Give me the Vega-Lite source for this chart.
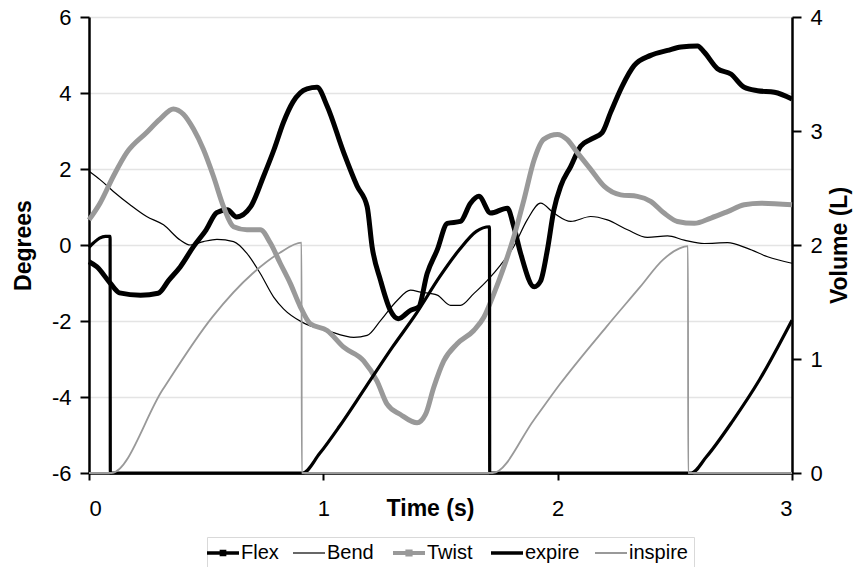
{
  "$schema": "https://vega.github.io/schema/vega-lite/v6.json",
  "width": 703,
  "height": 456,
  "autosize": "none",
  "padding": {"left": 89, "top": 17, "right": 66, "bottom": 94},
  "background": "white",
  "config": {
    "view": {"stroke": null},
    "font": "Liberation Sans",
    "legend": {
      "orient": "none",
      "legendX": 118,
      "legendY": 520,
      "direction": "horizontal",
      "strokeColor": "#d9d9d9",
      "fillColor": "white",
      "padding": 6,
      "symbolType": "stroke",
      "symbolSize": 1024,
      "labelFont": "Liberation Sans",
      "labelFontSize": 20,
      "labelColor": "black",
      "labelOffset": 8,
      "columnPadding": 11,
      "title": null
    }
  },
  "datasets": {
    "deg": [
      {"s":"Flex","t":0,"v":-0.44},{"s":"Flex","t":0.033,"v":-0.57},{"s":"Flex","t":0.09,"v":-1.0},{"s":"Flex","t":0.13,"v":-1.26},{"s":"Flex","t":0.22,"v":-1.32},{"s":"Flex","t":0.295,"v":-1.27},{"s":"Flex","t":0.34,"v":-0.93},{"s":"Flex","t":0.39,"v":-0.57},{"s":"Flex","t":0.445,"v":-0.05},{"s":"Flex","t":0.5,"v":0.4},{"s":"Flex","t":0.545,"v":0.85},{"s":"Flex","t":0.59,"v":0.93},{"s":"Flex","t":0.63,"v":0.74},{"s":"Flex","t":0.69,"v":1.01},{"s":"Flex","t":0.745,"v":1.81},{"s":"Flex","t":0.79,"v":2.52},{"s":"Flex","t":0.83,"v":3.23},{"s":"Flex","t":0.87,"v":3.76},{"s":"Flex","t":0.93,"v":4.11},{"s":"Flex","t":0.973,"v":4.15},{"s":"Flex","t":1.016,"v":3.66},{"s":"Flex","t":1.087,"v":2.43},{"s":"Flex","t":1.144,"v":1.55},{"s":"Flex","t":1.187,"v":1.01},{"s":"Flex","t":1.208,"v":-0.04},{"s":"Flex","t":1.244,"v":-0.93},{"s":"Flex","t":1.286,"v":-1.72},{"s":"Flex","t":1.32,"v":-1.94},{"s":"Flex","t":1.372,"v":-1.72},{"s":"Flex","t":1.407,"v":-1.63},{"s":"Flex","t":1.443,"v":-0.75},{"s":"Flex","t":1.486,"v":-0.13},{"s":"Flex","t":1.529,"v":0.57},{"s":"Flex","t":1.585,"v":0.62},{"s":"Flex","t":1.628,"v":1.1},{"s":"Flex","t":1.664,"v":1.28},{"s":"Flex","t":1.714,"v":0.84},{"s":"Flex","t":1.785,"v":0.97},{"s":"Flex","t":1.813,"v":0.48},{"s":"Flex","t":1.842,"v":-0.22},{"s":"Flex","t":1.9,"v":-1.1},{"s":"Flex","t":1.927,"v":-0.95},{"s":"Flex","t":1.956,"v":-0.13},{"s":"Flex","t":1.984,"v":0.93},{"s":"Flex","t":2.013,"v":1.55},{"s":"Flex","t":2.056,"v":2.07},{"s":"Flex","t":2.098,"v":2.6},{"s":"Flex","t":2.141,"v":2.78},{"s":"Flex","t":2.19,"v":2.96},{"s":"Flex","t":2.226,"v":3.49},{"s":"Flex","t":2.276,"v":4.19},{"s":"Flex","t":2.326,"v":4.72},{"s":"Flex","t":2.397,"v":4.99},{"s":"Flex","t":2.469,"v":5.12},{"s":"Flex","t":2.526,"v":5.21},{"s":"Flex","t":2.597,"v":5.24},{"s":"Flex","t":2.625,"v":5.08},{"s":"Flex","t":2.682,"v":4.64},{"s":"Flex","t":2.739,"v":4.5},{"s":"Flex","t":2.796,"v":4.15},{"s":"Flex","t":2.853,"v":4.06},{"s":"Flex","t":2.925,"v":4.02},{"s":"Flex","t":3.0,"v":3.84},
      {"s":"Bend","t":0,"v":1.94},{"s":"Bend","t":0.047,"v":1.72},{"s":"Bend","t":0.104,"v":1.41},{"s":"Bend","t":0.175,"v":1.06},{"s":"Bend","t":0.246,"v":0.75},{"s":"Bend","t":0.318,"v":0.53},{"s":"Bend","t":0.389,"v":0.13},{"s":"Bend","t":0.432,"v":0.0},{"s":"Bend","t":0.488,"v":0.09},{"s":"Bend","t":0.546,"v":0.15},{"s":"Bend","t":0.617,"v":0.09},{"s":"Bend","t":0.674,"v":-0.22},{"s":"Bend","t":0.731,"v":-0.75},{"s":"Bend","t":0.788,"v":-1.37},{"s":"Bend","t":0.83,"v":-1.68},{"s":"Bend","t":0.909,"v":-2.03},{"s":"Bend","t":1.016,"v":-2.25},{"s":"Bend","t":1.13,"v":-2.43},{"s":"Bend","t":1.187,"v":-2.38},{"s":"Bend","t":1.244,"v":-1.99},{"s":"Bend","t":1.315,"v":-1.46},{"s":"Bend","t":1.372,"v":-1.19},{"s":"Bend","t":1.415,"v":-1.24},{"s":"Bend","t":1.486,"v":-1.32},{"s":"Bend","t":1.543,"v":-1.59},{"s":"Bend","t":1.585,"v":-1.59},{"s":"Bend","t":1.642,"v":-1.28},{"s":"Bend","t":1.7,"v":-0.93},{"s":"Bend","t":1.756,"v":-0.53},{"s":"Bend","t":1.813,"v":-0.04},{"s":"Bend","t":1.87,"v":0.66},{"s":"Bend","t":1.927,"v":1.1},{"s":"Bend","t":1.984,"v":0.84},{"s":"Bend","t":2.056,"v":0.62},{"s":"Bend","t":2.141,"v":0.75},{"s":"Bend","t":2.212,"v":0.66},{"s":"Bend","t":2.298,"v":0.4},{"s":"Bend","t":2.383,"v":0.2},{"s":"Bend","t":2.469,"v":0.24},{"s":"Bend","t":2.54,"v":0.13},{"s":"Bend","t":2.625,"v":0.04},{"s":"Bend","t":2.725,"v":0.06},{"s":"Bend","t":2.81,"v":-0.09},{"s":"Bend","t":2.896,"v":-0.31},{"s":"Bend","t":3.0,"v":-0.48},
      {"s":"Twist","t":0,"v":0.66},{"s":"Twist","t":0.047,"v":1.1},{"s":"Twist","t":0.104,"v":1.81},{"s":"Twist","t":0.161,"v":2.43},{"s":"Twist","t":0.246,"v":2.96},{"s":"Twist","t":0.303,"v":3.31},{"s":"Twist","t":0.36,"v":3.58},{"s":"Twist","t":0.403,"v":3.44},{"s":"Twist","t":0.446,"v":3.05},{"s":"Twist","t":0.488,"v":2.52},{"s":"Twist","t":0.531,"v":1.81},{"s":"Twist","t":0.574,"v":1.01},{"s":"Twist","t":0.617,"v":0.48},{"s":"Twist","t":0.674,"v":0.4},{"s":"Twist","t":0.731,"v":0.4},{"s":"Twist","t":0.774,"v":0.05},{"s":"Twist","t":0.816,"v":-0.48},{"s":"Twist","t":0.859,"v":-1.01},{"s":"Twist","t":0.9,"v":-1.6},{"s":"Twist","t":0.944,"v":-2.07},{"s":"Twist","t":1.016,"v":-2.25},{"s":"Twist","t":1.087,"v":-2.69},{"s":"Twist","t":1.172,"v":-3.05},{"s":"Twist","t":1.229,"v":-3.58},{"s":"Twist","t":1.272,"v":-4.19},{"s":"Twist","t":1.329,"v":-4.46},{"s":"Twist","t":1.4,"v":-4.68},{"s":"Twist","t":1.436,"v":-4.46},{"s":"Twist","t":1.471,"v":-3.75},{"s":"Twist","t":1.514,"v":-3.05},{"s":"Twist","t":1.571,"v":-2.6},{"s":"Twist","t":1.642,"v":-2.25},{"s":"Twist","t":1.685,"v":-1.9},{"s":"Twist","t":1.728,"v":-1.28},{"s":"Twist","t":1.771,"v":-0.57},{"s":"Twist","t":1.813,"v":0.22},{"s":"Twist","t":1.856,"v":1.19},{"s":"Twist","t":1.9,"v":2.25},{"s":"Twist","t":1.94,"v":2.78},{"s":"Twist","t":1.999,"v":2.91},{"s":"Twist","t":2.04,"v":2.78},{"s":"Twist","t":2.084,"v":2.43},{"s":"Twist","t":2.141,"v":1.99},{"s":"Twist","t":2.198,"v":1.55},{"s":"Twist","t":2.269,"v":1.32},{"s":"Twist","t":2.34,"v":1.28},{"s":"Twist","t":2.397,"v":1.15},{"s":"Twist","t":2.454,"v":0.84},{"s":"Twist","t":2.511,"v":0.62},{"s":"Twist","t":2.583,"v":0.57},{"s":"Twist","t":2.654,"v":0.71},{"s":"Twist","t":2.725,"v":0.88},{"s":"Twist","t":2.796,"v":1.06},{"s":"Twist","t":2.868,"v":1.1},{"s":"Twist","t":3.0,"v":1.06}
    ],
    "vol": [
      {"s":"expire","t":0,"v":1.98},{"s":"expire","t":0.02,"v":2.02},{"s":"expire","t":0.045,"v":2.06},{"s":"expire","t":0.07,"v":2.075},{"s":"expire","t":0.09,"v":2.075},{"s":"expire","t":0.091,"v":0},{"s":"expire","t":0.912,"v":0},{"s":"expire","t":0.984,"v":0.17},{"s":"expire","t":1.069,"v":0.41},{"s":"expire","t":1.183,"v":0.76},{"s":"expire","t":1.297,"v":1.11},{"s":"expire","t":1.397,"v":1.4},{"s":"expire","t":1.496,"v":1.72},{"s":"expire","t":1.581,"v":1.96},{"s":"expire","t":1.653,"v":2.12},{"s":"expire","t":1.709,"v":2.16},{"s":"expire","t":1.71,"v":0},{"s":"expire","t":2.57,"v":0},{"s":"expire","t":2.634,"v":0.14},{"s":"expire","t":2.748,"v":0.46},{"s":"expire","t":2.862,"v":0.82},{"s":"expire","t":3.0,"v":1.34},
      {"s":"inspire","t":0,"v":0},{"s":"inspire","t":0.095,"v":0},{"s":"inspire","t":0.314,"v":0.73},{"s":"inspire","t":0.527,"v":1.37},{"s":"inspire","t":0.698,"v":1.75},{"s":"inspire","t":0.813,"v":1.93},{"s":"inspire","t":0.907,"v":2.02},{"s":"inspire","t":0.908,"v":0},{"s":"inspire","t":1.722,"v":0},{"s":"inspire","t":1.9,"v":0.47},{"s":"inspire","t":2.01,"v":0.78},{"s":"inspire","t":2.207,"v":1.28},{"s":"inspire","t":2.351,"v":1.63},{"s":"inspire","t":2.449,"v":1.87},{"s":"inspire","t":2.52,"v":1.97},{"s":"inspire","t":2.556,"v":1.99},{"s":"inspire","t":2.557,"v":0},{"s":"inspire","t":3.0,"v":0}
    ]
  },
  "encoding": {
    "x": {
      "field": "t", "type": "quantitative",
      "scale": {"domain": [0, 3], "nice": false, "zero": false},
      "axis": {
        "values": [0, 1, 2, 3],
        "labelExpr": "'' + datum.value",
        "grid": false,
        "domainColor": "black", "domainWidth": 2.5,
        "tickColor": "black", "tickWidth": 2, "tickSize": 7,
        "labelFont": "Liberation Sans", "labelFontSize": 22, "labelColor": "black",
        "labelPadding": 35, "labelBaseline": "alphabetic",
        "title": "Time (s)", "titleFont": "Liberation Sans", "titleFontSize": 23, "titleFontWeight": "bold", "titleColor": "black",
        "titleX": 341, "titleY": 42, "titleBaseline": "alphabetic", "titleAlign": "center"
      }
    }
  },
  "layer": [
    {
      "data": {"name": "deg"},
      "encoding": {
        "y": {
          "field": "v", "type": "quantitative",
          "scale": {"domain": [-6, 6], "nice": false, "zero": false},
          "axis": {
            "orient": "left",
            "values": [-6, -4, -2, 0, 2, 4, 6],
            "labelExpr": "'' + datum.value",
            "grid": true, "gridColor": "#e4e4e4", "gridWidth": 1.5,
            "domainColor": "black", "domainWidth": 2.5,
            "tickColor": "black", "tickWidth": 2, "tickSize": 9,
            "labelFont": "Liberation Sans", "labelFontSize": 22, "labelColor": "black", "labelPadding": 9,
            "title": "Degrees", "titleFont": "Liberation Sans", "titleFontSize": 23, "titleFontWeight": "bold", "titleColor": "black",
            "titleX": -66, "titleY": 228, "titleAngle": 270, "titleBaseline": "middle", "titleAlign": "center"
          }
        },
        "color": {
          "field": "s", "type": "nominal",
          "scale": {"domain": ["Flex", "Bend", "Twist", "expire", "inspire"], "range": ["#000000", "#000000", "#999999", "#000000", "#999999"]},
          "legend": {
            "encode": {
              "symbols": {
                "update": {
                  "strokeWidth": {"signal": "datum.value === 'Bend' ? 1.2 : datum.value === 'inspire' ? 2 : datum.value === 'Twist' ? 4 : 3.5"},
                  "shape": {"signal": "(datum.value === 'Flex' || datum.value === 'Twist') ? 'M-1,0H1M-0.1,-0.1H0.1V0.1H-0.1Z' : 'stroke'"}
                }
              }
            }
          }
        }
      },
      "layer": [
        {"transform": [{"filter": "datum.s === 'Flex'"}], "mark": {"type": "line", "strokeWidth": 5, "strokeJoin": "round", "interpolate": "monotone"}},
        {"transform": [{"filter": "datum.s === 'Bend'"}], "mark": {"type": "line", "strokeWidth": 1.2, "interpolate": "monotone"}},
        {"transform": [{"filter": "datum.s === 'Twist'"}], "mark": {"type": "line", "strokeWidth": 5, "strokeJoin": "round", "interpolate": "monotone"}}
      ]
    },
    {
      "data": {"name": "vol"},
      "encoding": {
        "y": {
          "field": "v", "type": "quantitative",
          "scale": {"domain": [0, 4], "nice": false, "zero": false},
          "axis": {
            "orient": "right",
            "values": [0, 1, 2, 3, 4],
            "grid": false,
            "domainColor": "black", "domainWidth": 2.5,
            "tickColor": "black", "tickWidth": 2, "tickSize": 9,
            "labelFont": "Liberation Sans", "labelFontSize": 22, "labelColor": "black", "labelPadding": 9,
            "title": "Volume (L)", "titleFont": "Liberation Sans", "titleFontSize": 23, "titleFontWeight": "bold", "titleColor": "black",
            "titleX": 47, "titleY": 228, "titleAngle": 270, "titleBaseline": "middle", "titleAlign": "center"
          }
        },
        "color": {"field": "s", "type": "nominal", "scale": {"domain": ["Flex", "Bend", "Twist", "expire", "inspire"], "range": ["#000000", "#000000", "#999999", "#000000", "#999999"]}}
      },
      "layer": [
        {"transform": [{"filter": "datum.s === 'expire'"}], "mark": {"type": "line", "strokeWidth": 3.2, "interpolate": "monotone"}},
        {"transform": [{"filter": "datum.s === 'inspire'"}], "mark": {"type": "line", "strokeWidth": 1.8, "interpolate": "monotone"}}
      ]
    }
  ],
  "resolve": {"scale": {"y": "independent"}}
}
